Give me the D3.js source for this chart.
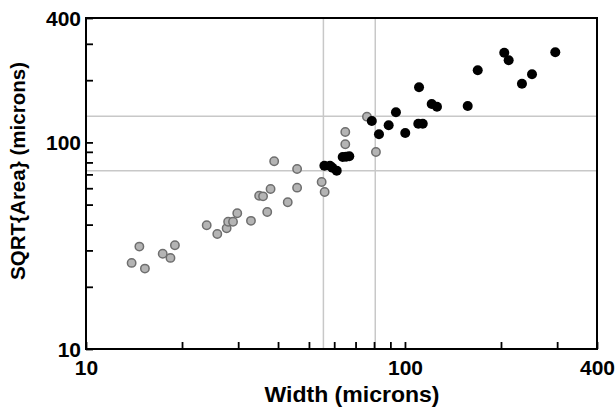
<!DOCTYPE html>
<html>
<head>
<meta charset="utf-8">
<script src="https://cdn.jsdelivr.net/npm/d3@7"></script>
<style>
  body { margin: 0; background: #fff; }
  text { font-family: "Liberation Sans", Arial, sans-serif; font-weight: bold; }
</style>
</head>
<body>
<script>
// gray (open) points: [width, sqrt area]
const grayPts = [
  [13.9, 26.1], [14.7, 31.3], [15.3, 24.5], [17.4, 28.9], [18.4, 27.6], [19.0, 31.8],
  [23.9, 39.7], [25.8, 36.0], [27.6, 38.4], [27.9, 41.3], [28.9, 41.3], [29.8, 45.4],
  [32.9, 41.7], [34.9, 55.2], [35.9, 54.8], [37.0, 46.0], [37.9, 59.5], [38.9, 81.0],
  [42.9, 51.3], [45.9, 60.4], [45.9, 74.3], [54.8, 64.3], [56.0, 57.5], [65.0, 112.3],
  [65.0, 97.9], [76.0, 133.2], [81.1, 89.8]
];
// black points
const blackPts = [
  [55.9, 77.1], [58.2, 77.1], [59.2, 75.4], [61.1, 73.0], [63.8, 85.0], [65.4, 85.3],
  [66.9, 85.7], [78.7, 126.9], [82.9, 109.4], [88.9, 121.0], [93.7, 139.8], [100.2, 111.1],
  [110.7, 184.8], [110.1, 123.2], [113.7, 123.2], [121.3, 153.4], [126.0, 148.9], [157.3, 150.1],
  [169.1, 223.3], [204.8, 271.8], [211.4, 249.7], [232.7, 192.3], [250.2, 213.5], [296.0, 273.0]
];
const refX = [55.5, 80.7];
const refY = [73, 134];
const tickVals = [10, 20, 30, 40, 50, 60, 70, 80, 90, 100, 200, 300, 400];
const labelVals = [10, 100, 400];

const width = 616, height = 409;
const margin = {top: 18, right: 19, bottom: 60, left: 86};

const svg = d3.select('body').append('svg')
  .attr('width', width)
  .attr('height', height);

const x = d3.scaleLog().domain([10, 400]).range([margin.left, width - margin.right]);
const y = d3.scaleLog().domain([10, 400]).range([349, margin.top]);
const plotBottom = y(10);

// reference lines
svg.append('g').selectAll('line.rx').data(refX).join('line')
  .attr('x1', d => x(d)).attr('x2', d => x(d))
  .attr('y1', margin.top).attr('y2', plotBottom)
  .attr('stroke', '#c8c8c8').attr('stroke-width', 1.5);
svg.append('g').selectAll('line.ry').data(refY).join('line')
  .attr('x1', margin.left).attr('x2', x(400))
  .attr('y1', d => y(d)).attr('y2', d => y(d))
  .attr('stroke', '#c8c8c8').attr('stroke-width', 1.5);

const fmt = d => labelVals.includes(d) ? d : '';

const xAxis = svg.append('g')
  .attr('transform', 'translate(0,' + plotBottom + ')')
  .call(d3.axisBottom(x).tickValues(tickVals).tickFormat(fmt).tickSize(-7).tickPadding(11));
const yAxis = svg.append('g')
  .attr('transform', 'translate(' + margin.left + ',0)')
  .call(d3.axisLeft(y).tickValues(tickVals).tickFormat(fmt).tickSize(-7).tickPadding(5));

[xAxis, yAxis].forEach(function(a) {
  a.select('.domain').remove();
  a.selectAll('.tick line').attr('stroke', '#000').attr('stroke-width', 1.8);
  a.selectAll('.tick text').attr('fill', '#000')
    .style('font-size', '21px').style('font-weight', 'bold')
    .style('font-family', '"Liberation Sans", Arial, sans-serif');
});
yAxis.selectAll('.tick text').attr('dy', '0.35em');

// frame
svg.append('rect')
  .attr('x', margin.left).attr('y', margin.top)
  .attr('width', x(400) - margin.left).attr('height', plotBottom - margin.top)
  .attr('fill', 'none').attr('stroke', '#000').attr('stroke-width', 2);

// points
svg.append('g').selectAll('circle').data(grayPts).join('circle')
  .attr('cx', d => x(d[0])).attr('cy', d => y(d[1]))
  .attr('r', 4.2)
  .attr('fill', '#b4b4b4').attr('stroke', '#6e6e6e').attr('stroke-width', 1.5);
svg.append('g').selectAll('circle').data(blackPts).join('circle')
  .attr('cx', d => x(d[0])).attr('cy', d => y(d[1]))
  .attr('r', 5)
  .attr('fill', '#000');

// axis titles
svg.append('text')
  .attr('x', 352).attr('y', 402)
  .attr('text-anchor', 'middle')
  .attr('textLength', 175).attr('lengthAdjust', 'spacingAndGlyphs')
  .style('font-size', '22px')
  .text('Width (microns)');
svg.append('text')
  .attr('transform', 'translate(25,171) rotate(-90)')
  .attr('text-anchor', 'middle')
  .attr('textLength', 218).attr('lengthAdjust', 'spacingAndGlyphs')
  .style('font-size', '21px')
  .text('SQRT{Area} (microns)');
</script>
</body>
</html>
